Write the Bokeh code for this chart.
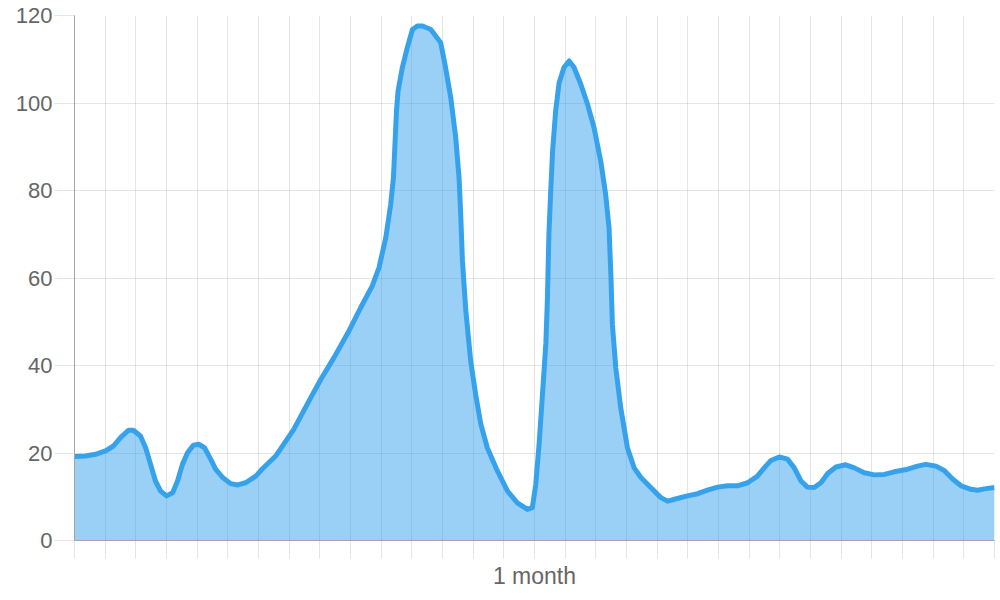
from bokeh.plotting import figure
from bokeh.models import Range1d, FixedTicker
from bokeh.embed import file_html
from bokeh.resources import INLINE

# x positions in days
days = [0, 0.36, 0.69, 1.01, 1.27, 1.50, 1.76, 1.92, 2.15, 2.32, 2.48, 2.64, 2.81, 3.00,
        3.20, 3.36, 3.52, 3.69, 3.88, 4.05, 4.24, 4.44, 4.60, 4.83, 5.09, 5.32, 5.58, 5.91,
        6.13, 6.56, 7.15, 7.70, 8.03, 8.46, 8.95, 9.33, 9.71, 9.93, 10.15, 10.31, 10.40,
        10.45, 10.50, 10.55, 10.69, 10.85, 11.02, 11.18, 11.35, 11.62, 11.94, 12.10, 12.27,
        12.43, 12.54, 12.59, 12.65, 12.76, 12.92, 13.08, 13.25, 13.46, 13.79, 14.12, 14.44,
        14.77, 14.93, 15.04, 15.15, 15.26, 15.37, 15.42, 15.47, 15.53, 15.59, 15.69, 15.80,
        15.96, 16.13, 16.29, 16.51, 16.73, 16.94, 17.16, 17.32, 17.43, 17.49, 17.54, 17.65,
        17.81, 18.03, 18.25, 18.47, 18.79, 19.12, 19.34, 19.66, 19.99, 20.32, 20.64, 20.97,
        21.30, 21.62, 21.95, 22.27, 22.49, 22.71, 22.98, 23.25, 23.47, 23.69, 23.90, 24.12,
        24.34, 24.56, 24.83, 25.15, 25.43, 25.75, 26.08, 26.41, 26.73, 27.17, 27.49, 27.76,
        28.09, 28.36, 28.64, 28.91, 29.23, 29.45, 29.67, 30.0]
values = [19.2, 19.3, 19.7, 20.5, 21.6, 23.5, 25.2, 25.2, 23.9, 21.2, 17.4, 13.6, 11.3, 10.2,
          10.9, 13.6, 17.4, 20.1, 21.8, 22.0, 21.2, 18.6, 16.3, 14.4, 13.0, 12.7, 13.2, 14.7,
          16.4, 19.3, 25.4, 32.6, 36.8, 41.8, 47.9, 53.2, 58.2, 62.4, 69.2, 76.8, 82.9,
          90.6, 98.2, 102.7, 108.1, 112.6, 116.8, 117.6, 117.6, 116.8, 113.8, 108.1, 101.2,
          92.1, 82.9, 75.3, 63.9, 52.5, 41.0, 33.4, 26.6, 21.2, 15.9, 11.3, 8.6,
          7.1, 7.5, 12.8, 22.0, 33.4, 45.0, 55.0, 70.0, 80.0, 89.0, 98.2, 104.5,
          108.1, 109.6, 108.1, 104.3, 99.7, 94.4, 86.7, 79.1, 71.5, 60.8, 49.4, 39.5,
          30.4, 21.2, 16.6, 14.4, 12.1, 9.8, 9.0, 9.6, 10.2, 10.7, 11.5, 12.2,
          12.5, 12.5, 13.2, 14.7, 16.6, 18.3, 19.1, 18.6, 16.6, 13.6, 12.2, 12.1,
          13.2, 15.3, 16.8, 17.3, 16.6, 15.5, 15.0, 15.1, 15.7, 16.3, 17.0, 17.4,
          17.0, 16.0, 14.0, 12.5, 11.7, 11.5, 11.8, 12.1]

x_ticks = list(range(0, 31))
x_tick_labels = {15: "1 month"}
y_ticks = [0, 20, 40, 60, 80, 100, 120]

FONT = "Liberation Sans"
GRID = "rgba(0,0,0,0.1)"
AXIS = "#a6a6a6"

p = figure(width=1000, height=600, output_backend="svg", toolbar_location=None,
           x_range=Range1d(0, 30), y_range=Range1d(0, 120),
           min_border_left=74, min_border_right=6, min_border_top=15, min_border_bottom=60)
p.outline_line_color = None
p.background_fill_color = "white"

p.varea(x=days, y1=0, y2=values, fill_color="#36A2EB", fill_alpha=0.5)
p.line(x=days, y=values, line_color="#36A2EB", line_width=5, line_join="round")

xa = p.xaxis[0]
xa.ticker = FixedTicker(ticks=x_ticks)
xa.major_label_overrides = {t: x_tick_labels.get(t, "") for t in x_ticks}
xa.major_tick_out = 18
xa.major_tick_in = 0
xa.minor_tick_line_color = None
xa.major_tick_line_color = GRID
xa.axis_line_color = AXIS
xa.major_label_text_font = FONT
xa.major_label_text_font_size = "23px"
xa.major_label_text_color = "#666666"
xa.major_label_standoff = 4

ya = p.yaxis[0]
ya.ticker = FixedTicker(ticks=y_ticks)
ya.major_tick_out = 20
ya.major_tick_in = 0
ya.minor_tick_line_color = None
ya.major_tick_line_color = GRID
ya.axis_line_color = AXIS
ya.major_label_text_font = FONT
ya.major_label_text_font_size = "22px"
ya.major_label_text_color = "#666666"
ya.major_label_standoff = 2

p.xgrid.ticker = FixedTicker(ticks=x_ticks)
p.ygrid.ticker = FixedTicker(ticks=y_ticks)
p.xgrid.grid_line_color = GRID
p.ygrid.grid_line_color = GRID

open("out.html", "w").write(file_html(p, INLINE))
